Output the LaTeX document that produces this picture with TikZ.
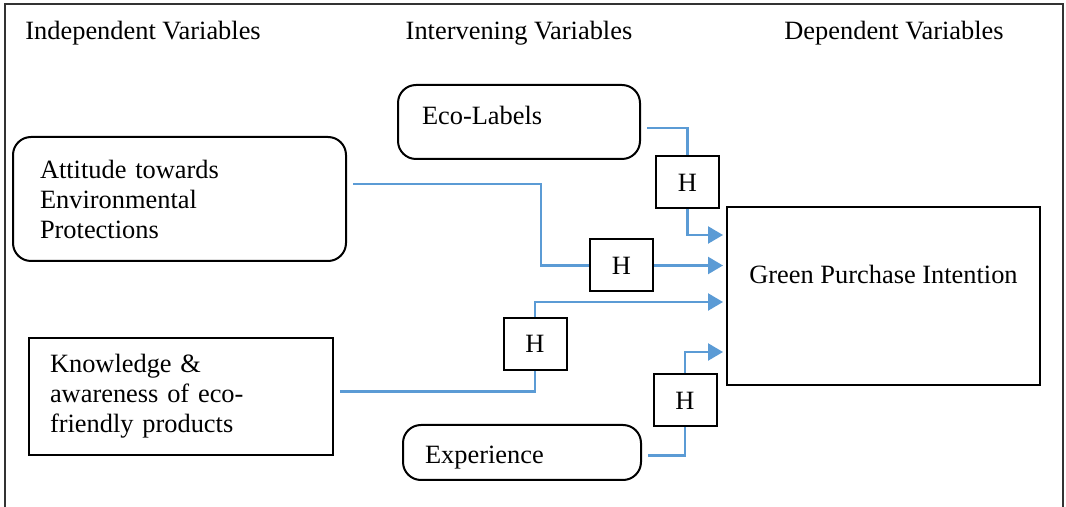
\documentclass[tikz,border=0pt]{standalone}
\usepackage{fontspec}
\setmainfont{Liberation Serif}
\usepackage{xcolor}
\usepackage{tikz}
\usetikzlibrary{arrows.meta,positioning,calc}
\definecolor{linkblue}{RGB}{91,155,213}
\newcommand{\txt}{\fontsize{13.2}{15}\selectfont}
\tikzset{
  block/.style={rectangle, draw=black, line width=1pt, align=left,
                font=\txt, inner ysep=2pt},
  rblock/.style={block, rounded corners=9pt},
  hbox/.style={rectangle, draw=black, line width=1pt, font=\txt,
               minimum width=31.5pt, minimum height=26pt, inner sep=1pt},
  head/.style={font=\txt, inner sep=0pt},
  link/.style={draw=linkblue, line width=1.2pt},
  arrow/.style={link, -{Triangle[length=7.5pt,width=8.5pt]}, shorten >=1.5pt},
}

\begin{document}
\begin{tikzpicture}[x=0.5pt, y=-0.5pt]
  \useasboundingbox (0,0) rectangle (1066,507);
  % outer frame (open at the bottom)
  \draw[line width=1.2pt, black!80] (5,520) |- (1063,4) -- (1063,520);

  % column headings
  \node[head, anchor=west] (indep) at (25,33) {Independent Variables};
  \node[head] (interv) at (519,33) {Intervening Variables};
  \node[head] (dep) at (894,33) {Dependent Variables};

  % variable boxes
  \node[rblock, inner xsep=13.5pt, text width=139.5pt, minimum height=62pt] (att) at (179.5,199) {Attitude towards\\Environmental\\Protections};
  \node[block, inner xsep=10.5pt, text width=131pt, minimum height=58.5pt] (know) at (181,396.5) {Knowledge \&\\awareness of eco-\\friendly products};
  \node[rblock, inner xsep=12pt, text width=97pt, minimum height=37pt, text depth=7pt] (eco) at (519,122) {Eco-Labels};
  \node[rblock, inner xsep=11pt, text width=97pt, minimum height=27.5pt, text height=14pt, text depth=3pt] (exp) at (522,452.5) {Experience};
  \node[block, align=center, minimum width=156.5pt, minimum height=89pt, text depth=22pt] (gpi) at (883.5,296) {Green Purchase Intention};

  % hypothesis boxes
  \node[hbox] (h1) at (687.5,182.5) {H};
  \node[hbox] (h2) at (621.5,265.5) {H};
  \node[hbox] (h3) at (535,344) {H};
  \node[hbox] (h4) at (685,400.5) {H};

  % connectors
  \draw[link, shorten <=3pt] ([yshift=-3pt]eco.east) -| (h1.north);
  \draw[arrow] (h1.south) |- ([yshift=30.5pt]gpi.west);
  \draw[link, shorten <=3pt] ([yshift=7.5pt]att.east) -- ++(194,0) |- (h2.west);
  \draw[arrow] (h2.east) -- (h2.east -| gpi.west);
  \draw[link, shorten <=3pt] ([yshift=2.5pt]know.east) -| (h3.south);
  \draw[arrow] (h3.north) |- ([yshift=-3pt]gpi.west);
  \draw[link, shorten <=3pt] ([yshift=-1.5pt]exp.east) -| (h4.south);
  \draw[arrow] (h4.north) |- ([yshift=-28pt]gpi.west);
\end{tikzpicture}
\end{document}
